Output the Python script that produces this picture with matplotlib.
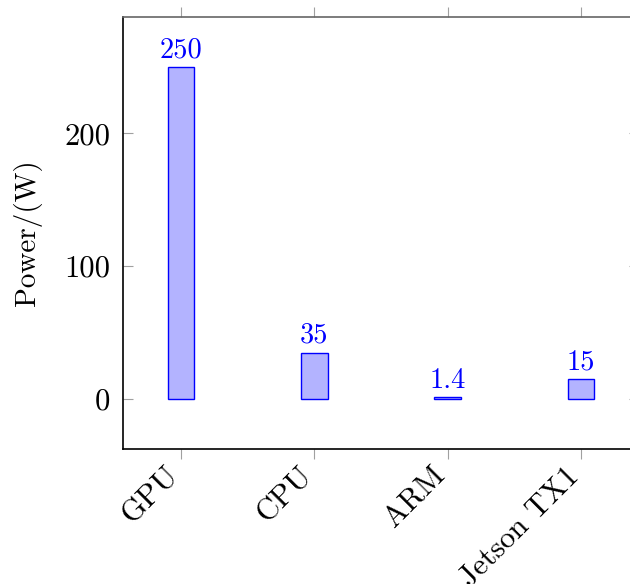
import matplotlib
matplotlib.use("Agg")
import matplotlib.pyplot as plt
from matplotlib.transforms import ScaledTranslation

categories = ["GPU", "CPU", "ARM", "Jetson TX1"]
power = [250, 35, 1.4, 15]
value_labels = ["250", "35", "1.4", "15"]
yticks = [0, 100, 200]

plt.rcParams['font.family'] = ['cmr10', 'DejaVu Serif']
plt.rcParams['mathtext.fontset'] = 'cm'
plt.rcParams['axes.formatter.use_mathtext'] = True

fig = plt.figure(figsize=(6.3, 5.84), dpi=100)
ax = fig.add_axes([123/630, 135/584, 516/630, 432/584])

x = list(range(len(categories)))
ax.bar(x, power, width=0.2, color="#b3b3ff", edgecolor="#0000ff", linewidth=1.0, zorder=3)

for xi, v, lab in zip(x, power, value_labels):
    ax.annotate(lab, (xi, v), xytext=(0, 7), textcoords="offset points",
                ha="center", va="baseline", color="#0000ff", fontsize=20.5)

ax.set_xlim(-0.435, 3.435)
ax.set_ylim(-37.5, 287.5)
ax.set_xticks(x)
ax.set_xticklabels([])
label_tr = ax.get_xaxis_transform() + ScaledTranslation(-16/100, -13/100, fig.dpi_scale_trans)
for xi, cat in zip(x, categories):
    ax.text(xi, 0, cat, transform=label_tr, rotation=45, ha="right", va="top",
            rotation_mode="anchor", fontsize=22, clip_on=False)
ax.set_yticks(yticks)
ax.set_yticklabels([str(t) for t in yticks], fontsize=22)
ax.set_ylabel("Power/(W)", fontsize=21, labelpad=16)

ax.tick_params(axis="x", direction="out", top=True, bottom=True, length=7, width=0.8, color="#a0a0a0")
ax.tick_params(axis="y", direction="in", left=True, right=True, length=7, width=0.8, color="#a0a0a0", pad=9)

for s in ["left", "bottom"]:
    ax.spines[s].set_color("black")
    ax.spines[s].set_linewidth(1.2)
for s in ["top", "right"]:
    ax.spines[s].set_color("#666666")
    ax.spines[s].set_linewidth(1.2)

fig.savefig("out.png", dpi=100)
